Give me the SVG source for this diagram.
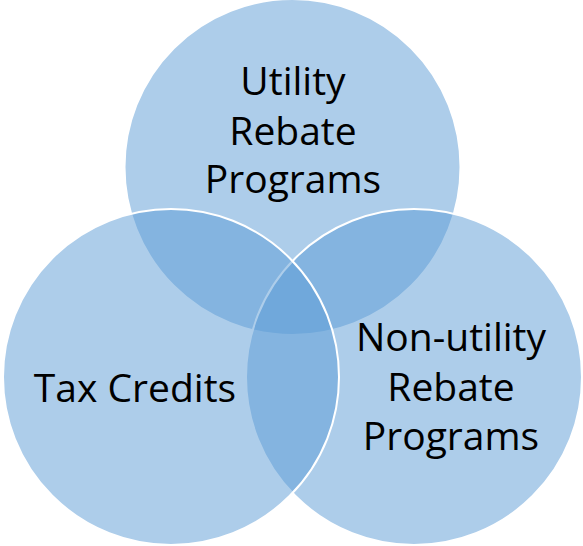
<svg xmlns="http://www.w3.org/2000/svg" width="583" height="546" viewBox="0 0 583 546">
<style>
.c{fill:#5b9bd5;fill-opacity:0.5;stroke:#ffffff;stroke-width:2}
.t{font-family:"Open Sans","Noto Sans","DejaVu Sans",sans-serif;font-size:39px;fill:#000000;text-anchor:middle}
</style>
<rect width="583" height="546" fill="#ffffff"/>
<g id="top">
<circle class="c" cx="292.5" cy="167" r="168"/>
</g>
<g id="right">
<circle class="c" cx="414" cy="377" r="168"/>
</g>
<g id="left">
<circle class="c" cx="171" cy="377" r="168"/>
</g>
<g id="labels">
<g id="label-top">
<text class="t" x="293" y="95">Utility</text>
<text class="t" x="293" y="145">Rebate</text>
<text class="t" x="293" y="193">Programs</text>
</g>
<g id="label-right">
<text class="t" x="451" y="351">Non-utility</text>
<text class="t" x="451" y="401">Rebate</text>
<text class="t" x="451" y="450">Programs</text>
</g>
<g id="label-left">
<text class="t" x="135" y="402">Tax Credits</text>
</g>
</g>
<g id="connectors"/>
</svg>
